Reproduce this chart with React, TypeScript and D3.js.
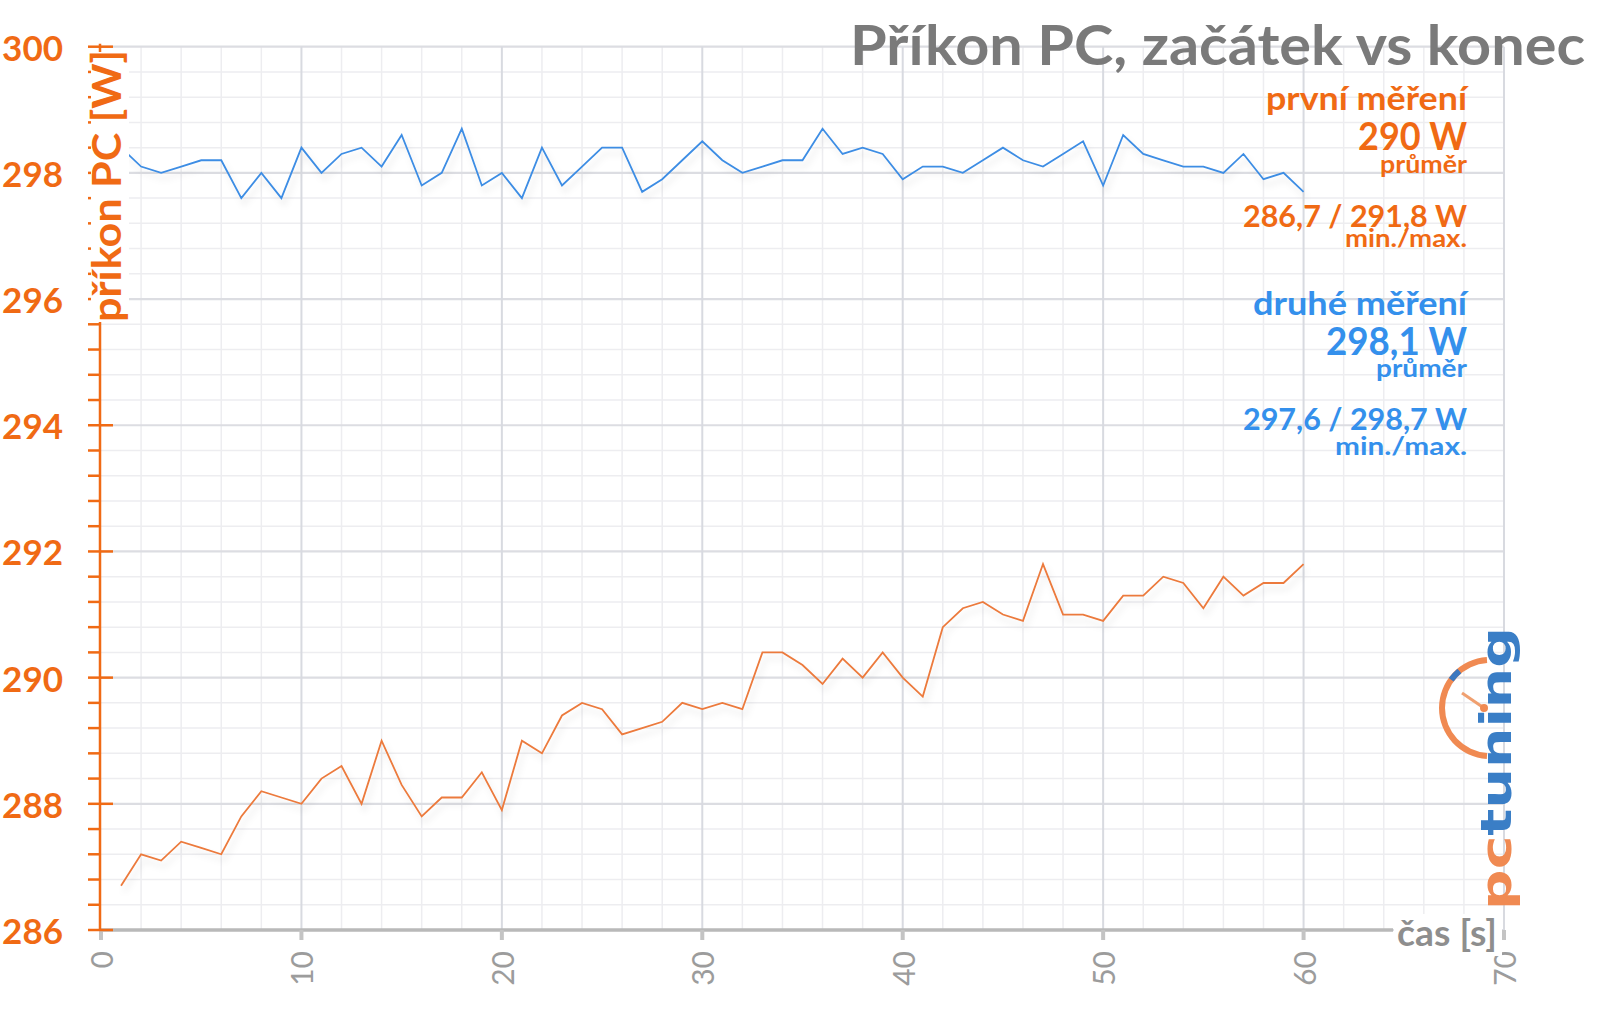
import React from 'react';
import * as d3 from 'd3';

// time in seconds: 1..60 (index + 1)
const firstRun: number[] = [
  286.7, 287.2, 287.1, 287.4, 287.3, 287.2, 287.8, 288.2, 288.1, 288.0,
  288.4, 288.6, 288.0, 289.0, 288.3, 287.8, 288.1, 288.1, 288.5, 287.9,
  289.0, 288.8, 289.4, 289.6, 289.5, 289.1, 289.2, 289.3, 289.6, 289.5,
  289.6, 289.5, 290.4, 290.4, 290.2, 289.9, 290.3, 290.0, 290.4, 290.0,
  289.7, 290.8, 291.1, 291.2, 291.0, 290.9, 291.8, 291.0, 291.0, 290.9,
  291.3, 291.3, 291.6, 291.5, 291.1, 291.6, 291.3, 291.5, 291.5, 291.8,
];

const secondRun: number[] = [
  298.4, 298.1, 298.0, 298.1, 298.2, 298.2, 297.6, 298.0, 297.6, 298.4,
  298.0, 298.3, 298.4, 298.1, 298.6, 297.8, 298.0, 298.7, 297.8, 298.0,
  297.6, 298.4, 297.8, 298.1, 298.4, 298.4, 297.7, 297.9, 298.2, 298.5,
  298.2, 298.0, 298.1, 298.2, 298.2, 298.7, 298.3, 298.4, 298.3, 297.9,
  298.1, 298.1, 298.0, 298.2, 298.4, 298.2, 298.1, 298.3, 298.5, 297.8,
  298.6, 298.3, 298.2, 298.1, 298.1, 298.0, 298.3, 297.9, 298.0, 297.7,
];

const yTicks: number[] = [286, 288, 290, 292, 294, 296, 298, 300];
const xTicks: number[] = [0, 10, 20, 30, 40, 50, 60, 70];

const title = 'Příkon PC, začátek vs konec';
const yTitle = 'příkon PC [W]';
const xTitle = 'čas [s]';

const firstLegend = ['první měření', '290 W', 'průměr', '286,7 / 291,8 W', 'min./max.'];
const secondLegend = ['druhé měření', '298,1 W', 'průměr', '297,6 / 298,7 W', 'min./max.'];

const ORANGE = '#F06A14';
const ORANGE_LINE = '#EC7A3C';
const BLUE = '#3490EC';
const BLUE_LINE = '#3D8DE4';
const GRAY_TITLE = '#7a7a7a';
const FONT = 'Lato, "Open Sans", sans-serif';

export default function App() {
  const W = 1600;
  const H = 1013;
  const x = d3.scaleLinear().domain([0, 70]).range([101, 1504]);
  const y = d3.scaleLinear().domain([286, 300]).range([930, 46.7]);

  const line = d3
    .line<number>()
    .x((_, i) => x(i + 1))
    .y((d) => y(d));

  const minorY = d3.range(286, 300.001, 0.4).filter((v) => Math.abs(v / 2 - Math.round(v / 2)) > 0.01);
  const minorX = d3.range(0, 70.001, 2).filter((v) => v % 10 !== 0);

  const legendX = 1467;
  const legendStyle = [
    { size: 32, y: 110, len: 201 },
    { size: 38, y: 150, len: 109 },
    { size: 25, y: 173, len: 87 },
    { size: 31, y: 227, len: 224 },
    { size: 25, y: 247, len: 122 },
  ];
  const legendStyle2 = [
    { size: 32, y: 315, len: 214 },
    { size: 38, y: 355, len: 141 },
    { size: 25, y: 377, len: 91 },
    { size: 31, y: 430, len: 224 },
    { size: 25, y: 455, len: 132 },
  ];

  // logo gauge arc
  const arc = d3
    .arc()
    .innerRadius(45)
    .outerRadius(51)
    .startAngle(-Math.PI * 0.98)
    .endAngle(-Math.PI * 0.02);
  const arcBlue = d3
    .arc()
    .innerRadius(45)
    .outerRadius(51)
    .startAngle(-Math.PI * 0.3)
    .endAngle(-Math.PI * 0.22);

  return (
    <svg
      width={W}
      height={H}
      viewBox={`0 0 ${W} ${H}`}
      style={{ position: 'absolute', left: 0, top: 0, background: '#fff' }}
    >
      <defs>
        <filter id="sh" x="-5%" y="-20%" width="110%" height="160%">
          <feDropShadow dx="3" dy="6" stdDeviation="3" floodColor="#000" floodOpacity="0.10" />
        </filter>
      </defs>
      <rect x={0} y={0} width={W} height={H} fill="#fff" />

      {/* minor grid */}
      {minorY.map((v) => (
        <line key={'my' + v} x1={x(0)} x2={x(70)} y1={y(v)} y2={y(v)} stroke="#ededf0" strokeWidth={1.5} />
      ))}
      {minorX.map((v) => (
        <line key={'mx' + v} x1={x(v)} x2={x(v)} y1={y(300)} y2={y(286)} stroke="#ededf0" strokeWidth={1.5} />
      ))}
      {/* major grid */}
      {yTicks.map((v) => (
        <line key={'gy' + v} x1={x(0)} x2={x(70)} y1={y(v)} y2={y(v)} stroke="#dcdde2" strokeWidth={2.2} />
      ))}
      {xTicks.filter((v) => v > 0).map((v) => (
        <line key={'gx' + v} x1={x(v)} x2={x(v)} y1={y(300)} y2={y(286)} stroke="#d8dae0" strokeWidth={2} />
      ))}

      {/* series */}
      <path d={line(secondRun) || ''} fill="none" stroke={BLUE_LINE} strokeWidth={1.8} filter="url(#sh)" />
      <path d={line(firstRun) || ''} fill="none" stroke={ORANGE_LINE} strokeWidth={1.8} filter="url(#sh)" />

      {/* x axis */}
      <line x1={x(0)} x2={1393} y1={y(286)} y2={y(286)} stroke="#b9b9b9" strokeWidth={3.5} />
      {xTicks.map((v) => (
        <line key={'xt' + v} x1={x(v)} x2={x(v)} y1={y(286)} y2={y(286) + 10} stroke="#c4c4c4" strokeWidth={4} />
      ))}
      {xTicks.map((v) => (
        <text
          key={'xl' + v}
          transform={`translate(${x(v)},${951}) rotate(-90)`}
          textAnchor="end"
          dominantBaseline="central"
          fontFamily={FONT}
          fontSize={30}
          fill="#9c9c9c"
        >
          {v}
        </text>
      ))}
      <rect x={1394} y={914} width={108} height={42} fill="#fff" />
      <text x={1397} y={946} fontFamily={FONT} fontWeight={700} fontSize={36} fill="#8e8e8e" textLength={100} lengthAdjust="spacingAndGlyphs">
        {xTitle}
      </text>

      {/* y axis */}
      <line x1={100} x2={100} y1={y(300) - 3} y2={y(286)} stroke={ORANGE} strokeWidth={2.5} />
      {minorY.map((v) => (
        <line key={'yt' + v} x1={88} x2={100} y1={y(v)} y2={y(v)} stroke={ORANGE} strokeWidth={2.5} />
      ))}
      {yTicks.map((v) => (
        <line key={'ym' + v} x1={88} x2={113} y1={y(v)} y2={y(v)} stroke={ORANGE} strokeWidth={2.5} />
      ))}
      {yTicks.map((v) => (
        <text
          key={'yl' + v}
          x={63}
          y={y(v)}
          textAnchor="end"
          dominantBaseline="central"
          fontFamily={FONT}
          fontWeight={700}
          fontSize={35}
          fill={ORANGE}
        >
          {v}
        </text>
      ))}
      <rect x={91} y={52} width={38} height={270} fill="#fff" />
      <text
        transform={`translate(121,${186}) rotate(-90)`}
        textAnchor="middle"
        fontFamily={FONT}
        fontWeight={700}
        fontSize={41}
        fill={ORANGE}
        textLength={272}
        lengthAdjust="spacingAndGlyphs"
      >
        {yTitle}
      </text>

      {/* title */}
      <text x={1585} y={65} textAnchor="end" fontFamily={FONT} fontWeight={700} fontSize={56} fill={GRAY_TITLE} textLength={735} lengthAdjust="spacingAndGlyphs">
        {title}
      </text>

      {/* legend */}
      {firstLegend.map((t, i) => (
        <text
          key={'l1' + i}
          x={legendX}
          y={legendStyle[i].y}
          textAnchor="end"
          fontFamily={FONT}
          fontWeight={700}
          fontSize={legendStyle[i].size}
          fill={ORANGE}
          textLength={legendStyle[i].len}
          lengthAdjust="spacingAndGlyphs"
        >
          {t}
        </text>
      ))}
      {secondLegend.map((t, i) => (
        <text
          key={'l2' + i}
          x={legendX}
          y={legendStyle2[i].y}
          textAnchor="end"
          fontFamily={FONT}
          fontWeight={700}
          fontSize={legendStyle2[i].size}
          fill={BLUE}
          textLength={legendStyle2[i].len}
          lengthAdjust="spacingAndGlyphs"
        >
          {t}
        </text>
      ))}

      {/* logo */}
      <g transform="translate(1490,708)">
        <path d={arc({} as any) || ''} fill="#F08A52" />
        <path d={arcBlue({} as any) || ''} fill="#3A78C0" />
        <line x1={-28} x2={-6} y1={-15} y2={0} stroke="#F0A070" strokeWidth={3} />
        <circle cx={-6} cy={0} r={4} fill="#F08A52" />
      </g>
      <text
        transform="translate(1511,910) rotate(-90)"
        fontFamily='"DejaVu Sans", sans-serif'
        fontWeight={700}
        fontSize={42}
        textLength={283}
        lengthAdjust="spacingAndGlyphs"
      >
        <tspan fill="#F08A52">pc</tspan>
        <tspan fill="#3A7EC6">tuning</tspan>
      </text>
    </svg>
  );
}
